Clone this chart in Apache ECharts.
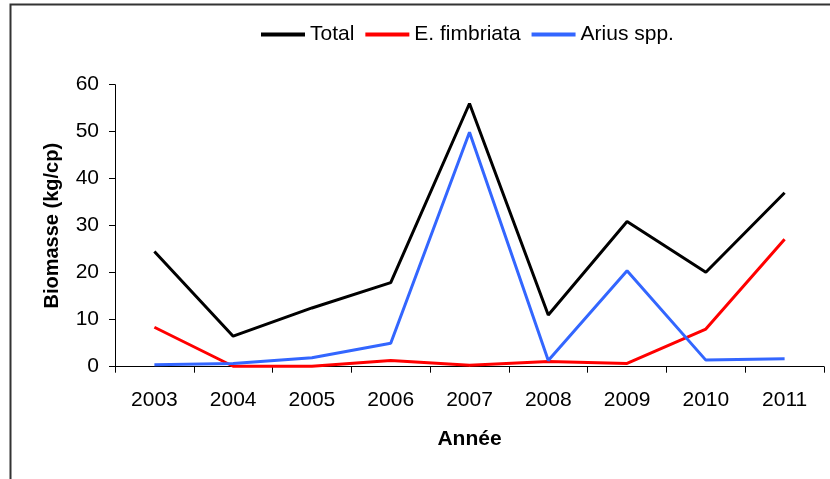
<!DOCTYPE html>
<html>
<head>
<meta charset="utf-8">
<script src="https://cdn.jsdelivr.net/npm/echarts@6/dist/echarts.min.js"></script>
<style>html,body{margin:0;padding:0;background:#fff}#c{width:830px;height:479px}</style>
</head>
<body>
<div id="c"></div>
<script>
const categories = ['2003','2004','2005','2006','2007','2008','2009','2010','2011'];
const totalValues = [24.5, 6.5, 12.5, 17.9, 56.0, 11.0, 30.9, 20.1, 37.0];
const fimbriataValues = [8.4, 0.1, 0.1, 1.3, 0.3, 1.1, 0.7, 8.0, 27.1];
const ariusValues = [0.4, 0.7, 1.9, 5.0, 49.9, 1.3, 20.4, 1.4, 1.7];
const seriesNames = ['Total', 'E. fimbriata', 'Arius spp.'];
const seriesColors = ['#000000', '#ff0000', '#3366ff'];
const yTitle = 'Biomasse (kg/cp)';
const xTitle = 'Année';

const font = '"Liberation Sans", Arial, sans-serif';
const chart = echarts.init(document.getElementById('c'), null, {renderer: 'canvas'});
const dataSets = [totalValues, fimbriataValues, ariusValues];
chart.setOption({
  animation: false,
  backgroundColor: '#fff',
  textStyle: {fontFamily: font},
  graphic: [{
    type: 'rect', z: -10, silent: true,
    shape: {x: 10.5, y: 4.5, width: 830, height: 480},
    style: {fill: 'none', stroke: '#333', lineWidth: 2}
  }],
  legend: {
    left: 256, top: 19,
    itemWidth: 44, itemHeight: 4, itemGap: 11,
    icon: 'rect',
    textStyle: {fontFamily: font, fontSize: 21, color: '#000', padding: [0,0,0,0]},
    data: seriesNames.map((n, i) => ({name: n, itemStyle: {color: seriesColors[i]}}))
  },
  grid: {left: 115, right: 6, top: 84.7, bottom: 112.3, containLabel: false, outerBoundsMode: 'none'},
  xAxis: {
    type: 'category', data: categories, boundaryGap: true,
    name: xTitle, nameLocation: 'middle', nameGap: 62,
    nameTextStyle: {fontFamily: font, fontSize: 21, fontWeight: 'bold', color: '#000'},
    axisLine: {lineStyle: {color: '#000', width: 1}},
    axisTick: {show: true, inside: false, length: 6, lineStyle: {color: '#000'}},
    axisLabel: {fontFamily: font, fontSize: 21, color: '#000', margin: 23}
  },
  yAxis: {
    type: 'value', min: 0, max: 60, interval: 10,
    name: yTitle, nameLocation: 'middle', nameGap: 53, nameRotate: 90,
    nameTextStyle: {fontFamily: font, fontSize: 20, fontWeight: 'bold', color: '#000'},
    axisLine: {show: true, lineStyle: {color: '#000', width: 1}},
    axisTick: {show: true, inside: false, length: 6, lineStyle: {color: '#000'}},
    axisLabel: {fontFamily: font, fontSize: 21, color: '#000', margin: 16},
    splitLine: {show: false}
  },
  series: seriesNames.map((n, i) => ({
    name: n, type: 'line', data: dataSets[i],
    symbol: 'none', showSymbol: false,
    lineStyle: {color: seriesColors[i], width: 3},
    itemStyle: {color: seriesColors[i]}
  }))
});
</script>
</body>
</html>
